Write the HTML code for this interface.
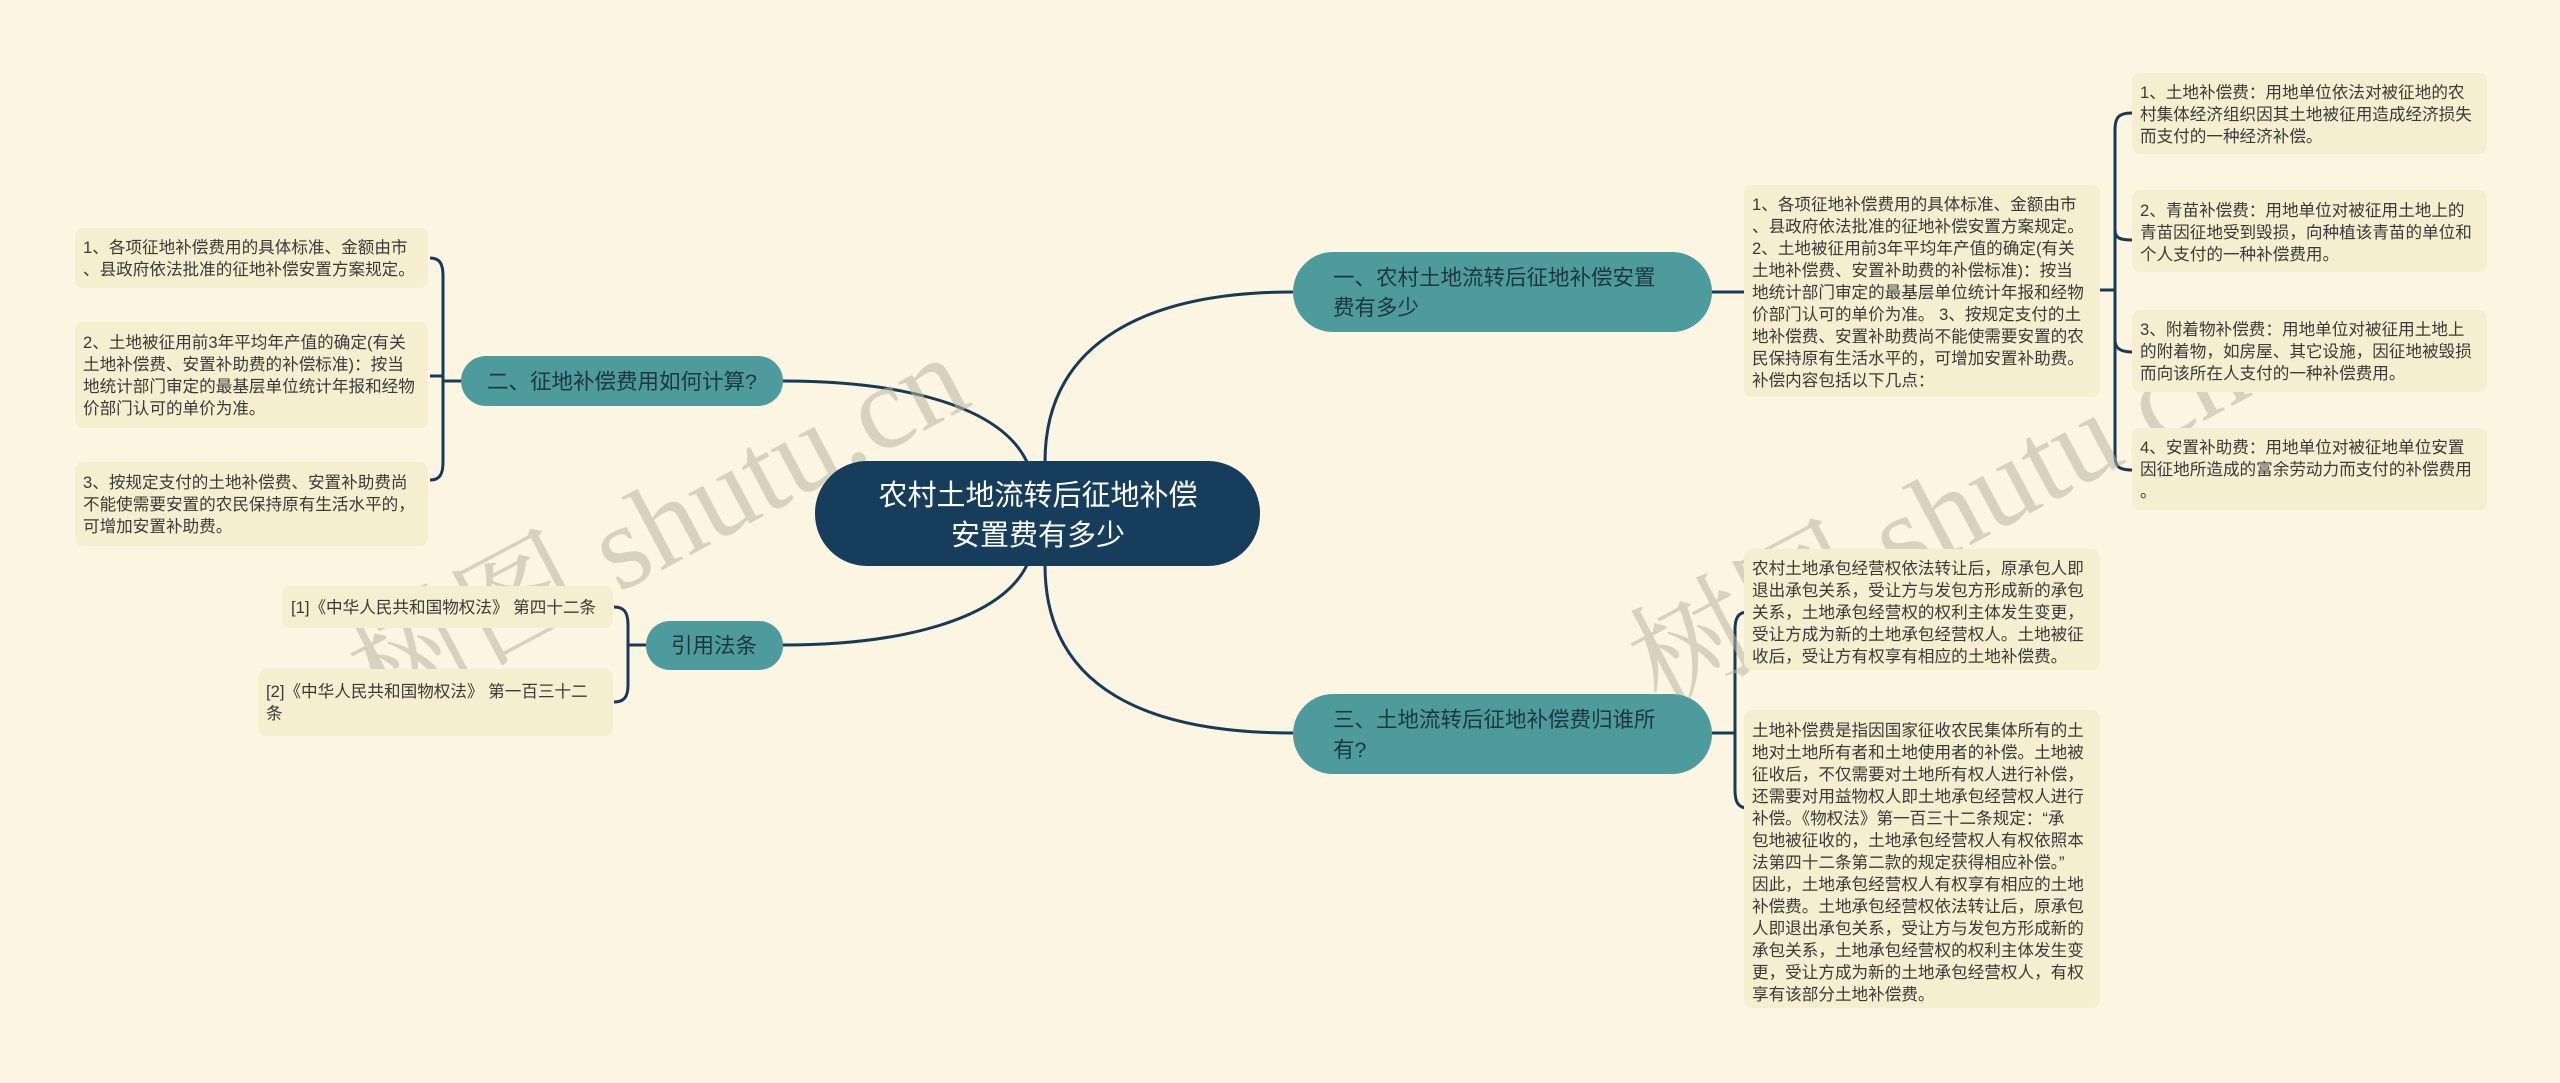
<!DOCTYPE html>
<html><head><meta charset="utf-8"><style>
html,body{margin:0;padding:0;background:#fbf5e1;}
svg{display:block;}
.t{font-family:"Liberation Sans","Noto Sans CJK SC",sans-serif;font-size:16.6px;fill:#3a3a3a;}
.b{font-family:"Liberation Sans","Noto Sans CJK SC",sans-serif;font-size:21.5px;fill:#1d3640;}
.c{font-family:"Liberation Sans","Noto Sans CJK SC",sans-serif;font-size:29px;fill:#ffffff;}
.w{font-family:"Liberation Serif","Noto Serif CJK SC",serif;font-size:120px;fill:#b9b6a2;opacity:0.55;}
</style></head><body>
<svg width="2560" height="1083" viewBox="0 0 2560 1083" xmlns="http://www.w3.org/2000/svg">
<rect width="2560" height="1083" fill="#fbf5e1"/>
<g fill="none" stroke="#173a57" stroke-width="3">
<!-- center to branches -->
<path d="M1045,462 C1045,340 1150,292 1293,292"/>
<path d="M1045,565 C1045,690 1150,733 1293,733"/>
<path d="M1027,462 C1000,405 900,381 783,381"/>
<path d="M1027,565 C1000,620 900,645 783,645"/>
<!-- branch 一 to leaf -->
<path d="M1712,292 L1744,292"/>
<!-- leaf to sub-leaves -->
<path d="M2100,290 L2115,290"/>
<path d="M2132,113 C2118,113 2115,118 2115,130 L2115,455 C2115,466 2118,470 2132,470"/>
<path d="M2115,230 C2115,238 2120,240 2132,240"/>
<path d="M2115,340 C2115,348 2120,352 2132,352"/>
<!-- branch 三 -->
<path d="M1712,733 L1735,733"/>
<path d="M1748,612 C1738,612 1735,618 1735,630 L1735,790 C1735,802 1738,808 1748,808"/>
<!-- branch 二 -->
<path d="M461,381 L443,381"/>
<path d="M430,258 C440,258 443,264 443,276 L443,462 C443,474 440,480 430,480"/>
<path d="M443,376 L430,376"/>
<!-- cites -->
<path d="M646,645 L628,645"/>
<path d="M614,607 C624,607 628,612 628,625 L628,685 C628,697 624,702 614,702"/>
</g>
<!-- watermarks -->
<text class="w" transform="translate(380,720) rotate(-28)">树图 shutu.cn</text>
<text class="w" transform="translate(1660,710) rotate(-28)">树图 shutu.cn</text>
<!-- center -->
<rect x="815" y="461" width="445" height="105" rx="52" fill="#173d5c"/>
<text class="c" x="1038" y="505" text-anchor="middle">农村土地流转后征地补偿</text>
<text class="c" x="1038" y="545" text-anchor="middle">安置费有多少</text>
<!-- branches -->
<rect x="1293" y="252" width="419" height="80" rx="40" fill="#4d9b9c"/>
<text class="b" x="1333" y="285">一、农村土地流转后征地补偿安置</text>
<text class="b" x="1333" y="315">费有多少</text>
<rect x="1293" y="694" width="419" height="80" rx="40" fill="#4d9b9c"/>
<text class="b" x="1333" y="727">三、土地流转后征地补偿费归谁所</text>
<text class="b" x="1333" y="757">有?</text>
<rect x="461" y="356" width="322" height="50" rx="25" fill="#4d9b9c"/>
<text class="b" x="622" y="389" text-anchor="middle">二、征地补偿费用如何计算?</text>
<rect x="646" y="621" width="137" height="49" rx="24" fill="#4d9b9c"/>
<text class="b" x="714" y="653" text-anchor="middle">引用法条</text>
<!-- leaf boxes -->
<g fill="#f5eecf">
<rect x="1744" y="185" width="356" height="212" rx="8"/>
<rect x="2132" y="73" width="355" height="81" rx="8"/>
<rect x="2132" y="190" width="355" height="82" rx="8"/>
<rect x="2132" y="310" width="355" height="82" rx="8"/>
<rect x="2132" y="428" width="355" height="82" rx="8"/>
<rect x="1744" y="549" width="356" height="121" rx="8"/>
<rect x="1744" y="710" width="356" height="298" rx="8"/>
<rect x="75" y="228" width="353" height="60" rx="8"/>
<rect x="75" y="322" width="353" height="106" rx="8"/>
<rect x="75" y="462" width="353" height="84" rx="8"/>
<rect x="282" y="586" width="331" height="42" rx="8"/>
<rect x="258" y="669" width="355" height="67" rx="8"/>
</g>
<g class="t">
<text x="1752" y="210">1、各项征地补偿费用的具体标准、金额由市</text>
<text x="1752" y="232">、县政府依法批准的征地补偿安置方案规定。</text>
<text x="1752" y="254"> 2、土地被征用前3年平均年产值的确定(有关</text>
<text x="1752" y="276">土地补偿费、安置补助费的补偿标准)：按当</text>
<text x="1752" y="298">地统计部门审定的最基层单位统计年报和经物</text>
<text x="1752" y="320">价部门认可的单价为准。 3、按规定支付的土</text>
<text x="1752" y="342">地补偿费、安置补助费尚不能使需要安置的农</text>
<text x="1752" y="364">民保持原有生活水平的，可增加安置补助费。</text>
<text x="1752" y="386">补偿内容包括以下几点：</text>

<text x="2140" y="98">1、土地补偿费：用地单位依法对被征地的农</text>
<text x="2140" y="120">村集体经济组织因其土地被征用造成经济损失</text>
<text x="2140" y="142">而支付的一种经济补偿。</text>
<text x="2140" y="216">2、青苗补偿费：用地单位对被征用土地上的</text>
<text x="2140" y="238">青苗因征地受到毁损，向种植该青苗的单位和</text>
<text x="2140" y="260">个人支付的一种补偿费用。</text>
<text x="2140" y="335">3、附着物补偿费：用地单位对被征用土地上</text>
<text x="2140" y="357">的附着物，如房屋、其它设施，因征地被毁损</text>
<text x="2140" y="379">而向该所在人支付的一种补偿费用。</text>
<text x="2140" y="453">4、安置补助费：用地单位对被征地单位安置</text>
<text x="2140" y="475">因征地所造成的富余劳动力而支付的补偿费用</text>
<text x="2140" y="497">。</text>

<text x="1752" y="574">农村土地承包经营权依法转让后，原承包人即</text>
<text x="1752" y="596">退出承包关系，受让方与发包方形成新的承包</text>
<text x="1752" y="618">关系，土地承包经营权的权利主体发生变更，</text>
<text x="1752" y="640">受让方成为新的土地承包经营权人。土地被征</text>
<text x="1752" y="662">收后，受让方有权享有相应的土地补偿费。</text>

<text x="1752" y="736">土地补偿费是指因国家征收农民集体所有的土</text>
<text x="1752" y="758">地对土地所有者和土地使用者的补偿。土地被</text>
<text x="1752" y="780">征收后，不仅需要对土地所有权人进行补偿，</text>
<text x="1752" y="802">还需要对用益物权人即土地承包经营权人进行</text>
<text x="1752" y="824">补偿。《物权法》第一百三十二条规定：“承</text>
<text x="1752" y="846">包地被征收的，土地承包经营权人有权依照本</text>
<text x="1752" y="868">法第四十二条第二款的规定获得相应补偿。”</text>
<text x="1752" y="890">因此，土地承包经营权人有权享有相应的土地</text>
<text x="1752" y="912">补偿费。土地承包经营权依法转让后，原承包</text>
<text x="1752" y="934">人即退出承包关系，受让方与发包方形成新的</text>
<text x="1752" y="956">承包关系，土地承包经营权的权利主体发生变</text>
<text x="1752" y="978">更，受让方成为新的土地承包经营权人，有权</text>
<text x="1752" y="1000">享有该部分土地补偿费。</text>

<text x="83" y="253">1、各项征地补偿费用的具体标准、金额由市</text>
<text x="83" y="275">、县政府依法批准的征地补偿安置方案规定。</text>
<text x="83" y="348">2、土地被征用前3年平均年产值的确定(有关</text>
<text x="83" y="370">土地补偿费、安置补助费的补偿标准)：按当</text>
<text x="83" y="392">地统计部门审定的最基层单位统计年报和经物</text>
<text x="83" y="414">价部门认可的单价为准。</text>
<text x="83" y="488">3、按规定支付的土地补偿费、安置补助费尚</text>
<text x="83" y="510">不能使需要安置的农民保持原有生活水平的，</text>
<text x="83" y="532">可增加安置补助费。</text>

<text x="291" y="613">[1]《中华人民共和国物权法》 第四十二条</text>
<text x="266" y="697">[2]《中华人民共和国物权法》 第一百三十二</text>
<text x="266" y="719">条</text>
</g>
</svg>
</body></html>
